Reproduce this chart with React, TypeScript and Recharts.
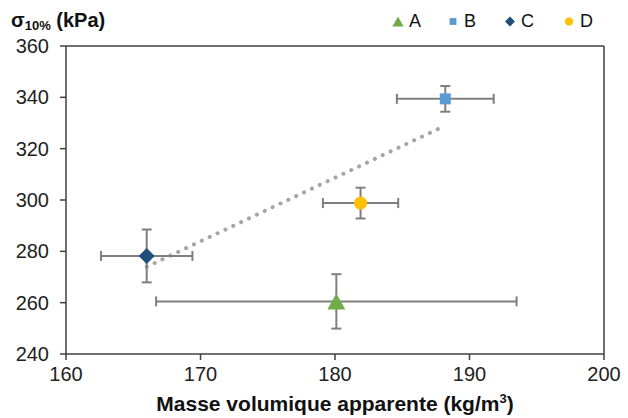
import React from 'react';
import { ScatterChart, Scatter, XAxis, YAxis, ErrorBar, ReferenceLine } from 'recharts';

const seriesNames = ['A', 'B', 'C', 'D'];
const seriesColors = ['#70AD47', '#5B9BD5', '#1F4E79', '#FFC000'];
const xValues = [180.1, 188.2, 166.0, 181.9];
const yValues = [260.5, 339.4, 278.2, 298.8];
const xErrors = [13.4, 3.6, 3.4, 2.8];
const yErrors = [10.6, 5.0, 10.3, 6.0];
const xTicks = [160, 170, 180, 190, 200];
const yTicks = [240, 260, 280, 300, 320, 340, 360];
const trendStart = { x: 166.0, y: 274.0 };
const trendEnd = { x: 188.2, y: 329.0 };

const FONT = '"Liberation Sans", Arial, sans-serif';
const AXIS = '#404040';
const ERR = '#7F7F7F';

const Marker = ({ kind, cx, cy, color, scale = 1 }: any) => {
  if (cx == null || cy == null) return null;
  if (kind === 'A') {
    const w = 9 * scale, h = 8 * scale;
    return <polygon points={`${cx},${cy - h} ${cx + w},${cy + h} ${cx - w},${cy + h}`} fill={color} />;
  }
  if (kind === 'B') {
    const s = 5.5 * scale;
    return <rect x={cx - s} y={cy - s} width={2 * s} height={2 * s} fill={color} />;
  }
  if (kind === 'C') {
    const s = 8 * scale;
    return <polygon points={`${cx},${cy - s} ${cx + s},${cy} ${cx},${cy + s} ${cx - s},${cy}`} fill={color} />;
  }
  return <circle cx={cx} cy={cy} r={6.5 * scale} fill={color} />;
};

const XLabel = ({ viewBox }: any) => {
  const { x, width } = viewBox;
  return (
    <text x={x + width / 2} y={411} textAnchor="middle" fontFamily={FONT} fontWeight="bold" fontSize={21} fill="#111">
      Masse volumique apparente (kg/m
      <tspan fontSize={13} dy={-8}>3</tspan>
      <tspan dy={8}>)</tspan>
    </text>
  );
};

const legendMarkerX = [398, 453, 510, 569];

export default function App() {
  const datasets = seriesNames.map((n, i) => [
    { x: xValues[i], y: yValues[i], ex: xErrors[i], ey: yErrors[i] },
  ]);
  return (
    <div style={{ position: 'absolute', left: 0, top: 0, width: 628, height: 418, background: '#fff', fontFamily: FONT }}>
      <ScatterChart width={628} height={418} margin={{ top: 46, right: 24, bottom: 0, left: 0 }}>
        <XAxis
          type="number"
          dataKey="x"
          domain={[160, 200]}
          ticks={xTicks}
          allowDataOverflow
          height={64}
          tickSize={6}
          tickMargin={7}
          stroke={AXIS}
          strokeWidth={1.5}
          tick={{ fill: '#222', fontSize: 20, fontFamily: FONT }}
          tickLine={{ stroke: AXIS }}
          label={<XLabel />}
        />
        <YAxis
          type="number"
          dataKey="y"
          domain={[240, 360]}
          ticks={yTicks}
          allowDataOverflow
          width={66}
          tickSize={6}
          tickMargin={11}
          stroke={AXIS}
          strokeWidth={1.5}
          tick={{ fill: '#222', fontSize: 20, fontFamily: FONT }}
          tickLine={{ stroke: AXIS }}
        />
        <ReferenceLine y={360} stroke={AXIS} strokeWidth={1.5} ifOverflow="visible" />
        <ReferenceLine x={200} stroke={AXIS} strokeWidth={1.5} ifOverflow="visible" />
        <ReferenceLine
          segment={[trendStart, trendEnd]}
          stroke="#A6A6A6"
          strokeWidth={4}
          strokeDasharray="0.1 8.6"
          strokeLinecap="round"
          ifOverflow="visible"
        />
        {seriesNames.map((n, i) => (
          <Scatter
            key={n}
            name={n}
            data={datasets[i]}
            isAnimationActive={false}
            shape={(p: any) => <Marker kind={n} cx={p.cx} cy={p.cy} color={seriesColors[i]} />}
          >
            <ErrorBar dataKey="ex" direction="x" stroke={ERR} strokeWidth={2} width={5} />
            <ErrorBar dataKey="ey" direction="y" stroke={ERR} strokeWidth={2} width={5} />
          </Scatter>
        ))}
      </ScatterChart>
      <svg width={628} height={40} style={{ position: 'absolute', left: 0, top: 0, pointerEvents: 'none' }}>
        <text x={11} y={27} fontFamily={FONT} fontWeight="bold" fontSize={20} fill="#111">
          σ<tspan fontSize={13} dy={3}>10%</tspan>
          <tspan dy={-3}> (kPa)</tspan>
        </text>
        {seriesNames.map((n, i) => (
          <g key={n}>
            <Marker kind={n} cx={legendMarkerX[i]} cy={21.5} color={seriesColors[i]} scale={0.62} />
            <text x={legendMarkerX[i] + 11} y={27} fontFamily={FONT} fontSize={18} fill="#111">{n}</text>
          </g>
        ))}
      </svg>
    </div>
  );
}
